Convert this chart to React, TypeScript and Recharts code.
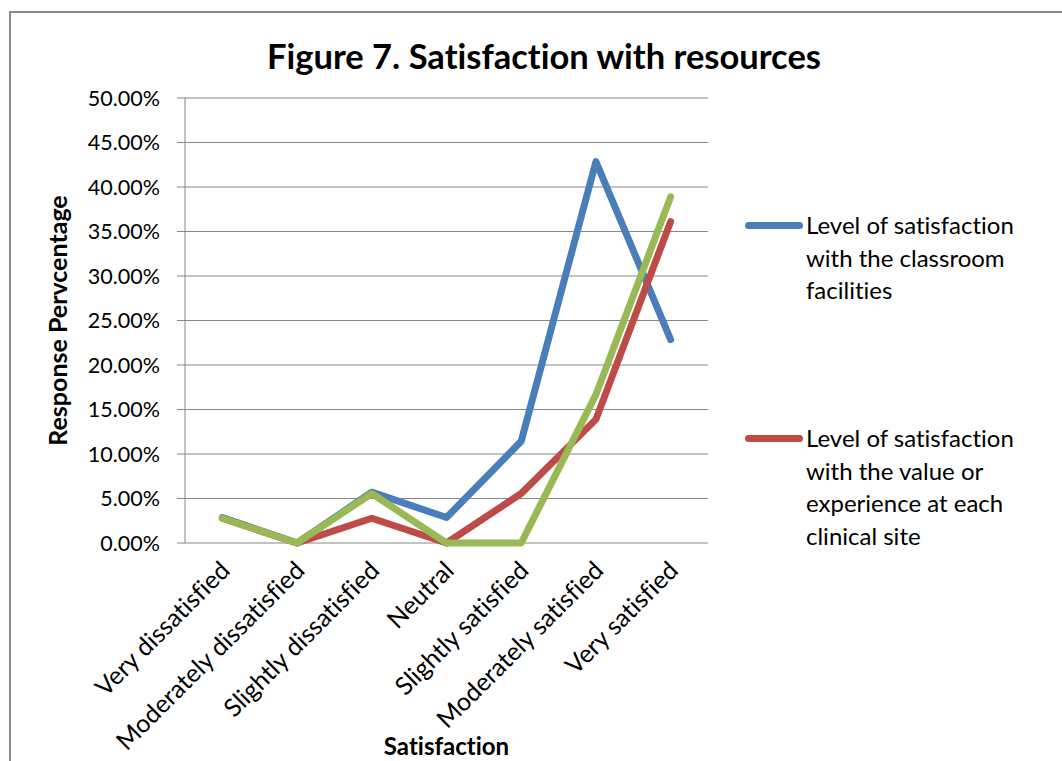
import { LineChart, Line, XAxis, YAxis, CartesianGrid, Legend, Label } from 'recharts';

const categories = [
  'Very dissatisfied',
  'Moderately dissatisfied',
  'Slightly dissatisfied',
  'Neutral',
  'Slightly satisfied',
  'Moderately satisfied',
  'Very satisfied',
];

// response percentages per satisfaction level
const classroomFacilities = [2.86, 0, 5.71, 2.86, 11.43, 42.86, 22.86];
const clinicalSiteValue = [2.78, 0, 2.78, 0, 5.56, 13.89, 36.11];
const clinicalResources = [2.78, 0, 5.56, 0, 0, 16.67, 38.89];

const yTicks = [0, 5, 10, 15, 20, 25, 30, 35, 40, 45, 50];
// category boundaries for the tick marks under the plot
const edgeTicks = [0, 1, 2, 3, 4, 5, 6, 7];

const SERIES = [
  { key: 'classroom', name: 'Level of satisfaction with the classroom facilities', color: '#4A7EBB', inLegend: true },
  { key: 'clinical', name: 'Level of satisfaction with the value or experience at each clinical site', color: '#BE4B48', inLegend: true },
  { key: 'resources', name: 'Level of satisfaction with clinical resources', color: '#98B954', inLegend: false },
];

const data = categories.map((category, i) => ({
  category,
  classroom: classroomFacilities[i],
  clinical: clinicalSiteValue[i],
  resources: clinicalResources[i],
}));

const FONT = 'Lato, "Open Sans", sans-serif';
const AXIS_GREY = '#868686';
const NO_LIGATURES = { fontVariantLigatures: 'none' as const };

const CategoryTick = ({ x, y, payload }: any) => {
  const tx = x + 9;
  const ty = y + 21;
  return (
    <text
      x={tx}
      y={ty}
      transform={`rotate(-45 ${tx} ${ty})`}
      textAnchor="end"
      fontFamily={FONT}
      fontSize={25}
      fill="#000"
      style={NO_LIGATURES}
    >
      {payload.value}
    </text>
  );
};

const legendNames = SERIES.filter((s) => s.inLegend).map((s) => s.name);

const LegendContent = ({ payload }: any) => (
  <div style={{ fontFamily: FONT, fontSize: 24, lineHeight: '32.5px', color: '#000', ...NO_LIGATURES }}>
    {(payload || [])
      .filter((entry: any) => legendNames.includes(entry.value))
      .map((entry: any) => (
        <div key={entry.value} style={{ display: 'flex', height: 213 }}>
          <div style={{ width: 58, height: 32.5, display: 'flex', alignItems: 'center', flexShrink: 0 }}>
            <div style={{ width: 58, height: 7, borderRadius: 3.5, background: entry.color }} />
          </div>
          <div style={{ width: 236, marginLeft: 3 }}>{entry.value}</div>
        </div>
      ))}
  </div>
);

export default function App() {
  return (
    <div style={{ position: 'fixed', left: 0, top: 0, width: 1062, height: 761, overflow: 'hidden', background: '#fff' }}>
      <div
        style={{
          position: 'absolute',
          left: 9,
          top: 11,
          width: 1100,
          height: 800,
          borderLeft: '2px solid #8a8a8a',
          borderTop: '2px solid #8a8a8a',
        }}
      />
      <div
        style={{
          position: 'absolute',
          left: 0,
          top: 35,
          width: 1088,
          textAlign: 'center',
          fontFamily: FONT,
          fontWeight: 700,
          fontSize: 34.5,
          color: '#000',
          ...NO_LIGATURES,
        }}
      >
        Figure 7. Satisfaction with resources
      </div>
      <div style={{ position: 'absolute', left: 0, top: 0 }}>
        <LineChart width={1062} height={761} data={data} margin={{ top: 98, right: 354, bottom: 0, left: 0 }}>
          <CartesianGrid vertical={false} stroke={AXIS_GREY} strokeWidth={1} xAxisId="edge" />
          <XAxis
            xAxisId="edge"
            type="number"
            domain={[0, 7]}
            ticks={edgeTicks}
            height={0}
            stroke={AXIS_GREY}
            tickSize={8}
            tickFormatter={() => ''}
          />
          <XAxis
            xAxisId="cat"
            dataKey="category"
            scale="band"
            height={218}
            axisLine={false}
            tickLine={false}
            interval={0}
            tick={<CategoryTick />}
          >
            <Label
              content={({ viewBox }: any) => (
                <text
                  x={viewBox.x + viewBox.width / 2}
                  y={viewBox.y + viewBox.height - 6}
                  textAnchor="middle"
                  fontFamily={FONT}
                  fontWeight={700}
                  fontSize={24}
                  fill="#000"
                  style={NO_LIGATURES}
                >
                  Satisfaction
                </text>
              )}
            />
          </XAxis>
          <YAxis
            width={185}
            domain={[0, 50]}
            ticks={yTicks}
            stroke={AXIS_GREY}
            tickSize={8}
            tickMargin={17}
            tick={{ fill: '#000', fontFamily: FONT, fontSize: 21.5 }}
            tickFormatter={(v: number) => `${v.toFixed(2)}%`}
          >
            <Label
              content={({ viewBox }: any) => {
                const lx = 67;
                const ly = viewBox.y + viewBox.height / 2;
                return (
                  <text
                    x={lx}
                    y={ly}
                    transform={`rotate(-90 ${lx} ${ly})`}
                    textAnchor="middle"
                    fontFamily={FONT}
                    fontWeight={700}
                    fontSize={25}
                    fill="#000"
                    style={NO_LIGATURES}
                  >
                    Response Pervcentage
                  </text>
                );
              }}
            />
          </YAxis>
          <Legend
            layout="vertical"
            verticalAlign="middle"
            align="center"
            wrapperStyle={{ left: 745, top: 209, width: 300 }}
            content={<LegendContent />}
          />
          {SERIES.map((s) => (
            <Line
              key={s.key}
              xAxisId="cat"
              type="linear"
              dataKey={s.key}
              name={s.name}
              stroke={s.color}
              strokeWidth={7}
              strokeLinejoin="round"
              strokeLinecap="round"
              dot={false}
              activeDot={false}
              legendType={s.inLegend ? 'line' : 'none'}
              isAnimationActive={false}
            />
          ))}
        </LineChart>
      </div>
    </div>
  );
}
